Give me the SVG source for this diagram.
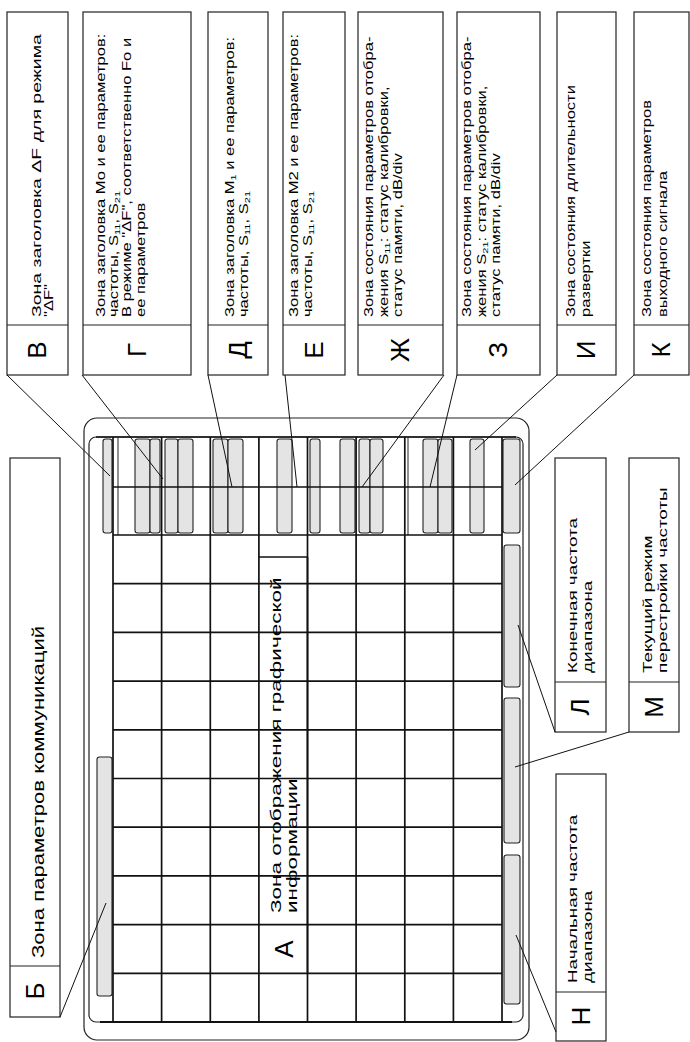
<svg xmlns="http://www.w3.org/2000/svg" width="690" height="1042" viewBox="0 0 690 1042">
<style>
.bx{fill:none;stroke:#222;stroke-width:1.2}
.ld{stroke:#111;stroke-width:1;fill:none}
.gr{stroke:#111;stroke-width:1.7;fill:none}
.th{stroke:#222;stroke-width:1;fill:none}
.bar{fill:#e4e4e4;stroke:#222;stroke-width:1.1}
.t{font-family:"Liberation Sans",Arial,sans-serif;font-size:12px;fill:#000}
.tb{font-family:"Liberation Sans",Arial,sans-serif;font-size:16px;fill:#000}
.tm{font-family:"Liberation Sans",Arial,sans-serif;font-size:13px;fill:#000}
.ta{font-family:"Liberation Sans",Arial,sans-serif;font-size:15px;fill:#000}
.L{font-family:"Liberation Sans",Arial,sans-serif;font-size:26px;fill:#000;text-anchor:middle}
</style>
<rect width="690" height="1042" fill="#fff"/>

<g id="display">
  <rect x="84" y="418" width="445" height="622" rx="13" class="bx" stroke-width="1.5"/>
  <rect x="89" y="437" width="434" height="585" rx="7" class="bx"/>
  <line x1="96" y1="437" x2="516" y2="437" class="gr" stroke-width="2.2"/>
  <g id="header-bars">
    <rect x="103" y="439" width="9" height="94" rx="2.5" class="bar"/>
    <rect x="135" y="439" width="15" height="94" rx="2.5" class="bar"/>
    <rect x="150" y="439" width="10" height="94" rx="2.5" class="bar"/>
    <rect x="165" y="439" width="13" height="94" rx="2.5" class="bar"/>
    <rect x="178" y="439" width="15" height="94" rx="2.5" class="bar"/>
    <rect x="213" y="439" width="15" height="94" rx="2.5" class="bar"/>
    <rect x="228" y="439" width="15" height="94" rx="2.5" class="bar"/>
    <rect x="277" y="439" width="15" height="94" rx="2.5" class="bar"/>
    <rect x="310" y="439" width="10" height="94" rx="2.5" class="bar"/>
    <rect x="340" y="439" width="15" height="94" rx="2.5" class="bar"/>
    <rect x="359" y="439" width="11" height="94" rx="2.5" class="bar"/>
    <rect x="370" y="439" width="13" height="94" rx="2.5" class="bar"/>
    <rect x="423" y="439" width="15" height="94" rx="2.5" class="bar"/>
    <rect x="438" y="439" width="14" height="94" rx="2.5" class="bar"/>
    <rect x="470" y="439" width="14" height="94" rx="2.5" class="bar"/>
    <rect x="503" y="439" width="17" height="94" rx="2.5" class="bar"/>
    <line x1="118" y1="437" x2="118" y2="535" class="th"/>
    <line x1="408" y1="437" x2="408" y2="535" class="th"/>
  </g>
  <g id="side-bars">
    <rect x="504" y="545" width="16" height="142" rx="2.5" class="bar"/>
    <rect x="504" y="698" width="16" height="145" rx="2.5" class="bar"/>
    <rect x="504" y="855" width="16" height="149" rx="2.5" class="bar"/>
    <rect x="97" y="757" width="15" height="239" rx="2.5" class="bar"/>
  </g>
  <g id="grid" class="gr">
    <line x1="113" y1="487" x2="502" y2="487" stroke-width="1.3"/>
    <line x1="113" y1="535" x2="502" y2="535"/>
    <line x1="113" y1="583.7" x2="502" y2="583.7"/>
    <line x1="113" y1="632.4" x2="502" y2="632.4"/>
    <line x1="113" y1="681.1" x2="502" y2="681.1"/>
    <line x1="113" y1="729.8" x2="502" y2="729.8"/>
    <line x1="113" y1="778.5" x2="502" y2="778.5"/>
    <line x1="113" y1="827.2" x2="502" y2="827.2"/>
    <line x1="113" y1="875.9" x2="502" y2="875.9"/>
    <line x1="113" y1="924.6" x2="502" y2="924.6"/>
    <line x1="113" y1="973.3" x2="502" y2="973.3"/>
    <line x1="100" y1="1022" x2="512" y2="1022" stroke-width="2.2"/>
    <line x1="113" y1="437" x2="113" y2="1022"/>
    <line x1="161.6" y1="437" x2="161.6" y2="1022"/>
    <line x1="210.3" y1="437" x2="210.3" y2="1022"/>
    <line x1="258.9" y1="437" x2="258.9" y2="1022"/>
    <line x1="307.5" y1="437" x2="307.5" y2="1022"/>
    <line x1="356.1" y1="437" x2="356.1" y2="1022"/>
    <line x1="404.8" y1="437" x2="404.8" y2="1022"/>
    <line x1="453.4" y1="437" x2="453.4" y2="1022"/>
    <line x1="502" y1="437" x2="502" y2="1022"/>
  </g>
</g>

<g id="node-A">
  <line x1="258.9" y1="557" x2="307.5" y2="557" class="gr" stroke-width="1.4"/>
  <line x1="307.5" y1="557" x2="307.5" y2="973" class="gr" stroke-width="2.6"/>
  <text class="ta" transform="translate(281,913) rotate(-90) scale(1.5,1)">Зона отображения графической</text>
  <text class="ta" transform="translate(297,913) rotate(-90) scale(1.5,1)">информации</text>
  <text class="L" transform="translate(284,949) rotate(-90)" y="9">А</text>
</g>

<g id="node-B">
  <rect x="7" y="12" width="61" height="363" class="bx"/>
  <line x1="7" y1="325" x2="68" y2="325" class="bx"/>
  <text class="t" transform="translate(41,317) rotate(-90) scale(1.38,1)" textLength="205" lengthAdjust="spacingAndGlyphs">Зона заголовка ΔF для режима</text>
  <text class="t" transform="translate(53,317) rotate(-90) scale(1.38,1)">"ΔF"</text>
  <text class="L" transform="translate(37,350) rotate(-90)" y="9">В</text>
</g>

<g id="node-G">
  <rect x="83" y="12" width="108" height="363" class="bx"/>
  <line x1="83" y1="325" x2="191" y2="325" class="bx"/>
  <text class="t" transform="translate(105,317) rotate(-90) scale(1.38,1)">Зона заголовка Мо и ее параметров:</text>
  <text class="t" transform="translate(118,317) rotate(-90) scale(1.38,1)">частоты, S<tspan font-size="8" dy="2">11</tspan><tspan dy="-2">, S</tspan><tspan font-size="8" dy="2">21</tspan></text>
  <text class="t" transform="translate(131,317) rotate(-90) scale(1.38,1)">В режиме "ΔF", соответственно Fo и</text>
  <text class="t" transform="translate(145,317) rotate(-90) scale(1.38,1)">ее параметров</text>
  <text class="L" transform="translate(137,350) rotate(-90)" y="9">Г</text>
</g>

<g id="node-D">
  <rect x="208" y="12" width="60" height="363" class="bx"/>
  <line x1="208" y1="325" x2="268" y2="325" class="bx"/>
  <text class="t" transform="translate(234,317) rotate(-90) scale(1.38,1)">Зона заголовка М<tspan font-size="8" dy="2">1</tspan><tspan dy="-2"> и ее параметров:</tspan></text>
  <text class="t" transform="translate(248,317) rotate(-90) scale(1.38,1)">частоты, S<tspan font-size="8" dy="2">11</tspan><tspan dy="-2">, S</tspan><tspan font-size="8" dy="2">21</tspan></text>
  <text class="L" transform="translate(238,350) rotate(-90)" y="9">Д</text>
</g>

<g id="node-E">
  <rect x="283" y="12" width="62" height="363" class="bx"/>
  <line x1="283" y1="325" x2="345" y2="325" class="bx"/>
  <text class="t" transform="translate(298,317) rotate(-90) scale(1.38,1)">Зона заголовка М2 и ее параметров:</text>
  <text class="t" transform="translate(312,317) rotate(-90) scale(1.38,1)">частоты, S<tspan font-size="8" dy="2">11</tspan><tspan dy="-2">, S</tspan><tspan font-size="8" dy="2">21</tspan></text>
  <text class="L" transform="translate(314,350) rotate(-90)" y="9">Е</text>
</g>

<g id="node-Zh">
  <rect x="358" y="12" width="85" height="363" class="bx"/>
  <line x1="358" y1="325" x2="443" y2="325" class="bx"/>
  <text class="t" transform="translate(373,317) rotate(-90) scale(1.38,1)">Зона состояния параметров отобра-</text>
  <text class="t" transform="translate(388,317) rotate(-90) scale(1.38,1)">жения S<tspan font-size="8" dy="2">11</tspan><tspan dy="-2">: статус калибровки,</tspan></text>
  <text class="t" transform="translate(402,317) rotate(-90) scale(1.38,1)">статус памяти, dB/div</text>
  <text class="L" transform="translate(400,350) rotate(-90)" y="9">Ж</text>
</g>

<g id="node-Z">
  <rect x="457" y="12" width="83" height="363" class="bx"/>
  <line x1="457" y1="325" x2="540" y2="325" class="bx"/>
  <text class="t" transform="translate(471,317) rotate(-90) scale(1.38,1)">Зона состояния параметров отобра-</text>
  <text class="t" transform="translate(486,317) rotate(-90) scale(1.38,1)">жения S<tspan font-size="8" dy="2">21</tspan><tspan dy="-2">: статус калибровки,</tspan></text>
  <text class="t" transform="translate(500,317) rotate(-90) scale(1.38,1)">статус памяти, dB/div</text>
  <text class="L" transform="translate(498,350) rotate(-90)" y="9">З</text>
</g>

<g id="node-I">
  <rect x="557" y="12" width="59" height="363" class="bx"/>
  <line x1="557" y1="325" x2="616" y2="325" class="bx"/>
  <text class="t" transform="translate(575,317) rotate(-90) scale(1.38,1)">Зона состояния длительности</text>
  <text class="t" transform="translate(590,317) rotate(-90) scale(1.38,1)">развертки</text>
  <text class="L" transform="translate(586,350) rotate(-90)" y="9">И</text>
</g>

<g id="node-K">
  <rect x="634" y="12" width="55" height="363" class="bx"/>
  <line x1="634" y1="325" x2="689" y2="325" class="bx"/>
  <text class="t" transform="translate(651,317) rotate(-90) scale(1.38,1)">Зона состояния параметров</text>
  <text class="t" transform="translate(667,317) rotate(-90) scale(1.38,1)">выходного сигнала</text>
  <text class="L" transform="translate(661,350) rotate(-90)" y="9">К</text>
</g>

<g id="node-Bb">
  <rect x="10" y="458" width="50" height="559" class="bx"/>
  <line x1="10" y1="966" x2="60" y2="966" class="bx"/>
  <text class="tb" transform="translate(44,958) rotate(-90) scale(1.38,1)">Зона параметров коммуникаций</text>
  <text class="L" transform="translate(35,991) rotate(-90)" y="9">Б</text>
</g>

<g id="node-L">
  <rect x="555" y="458" width="51" height="274" class="bx"/>
  <line x1="555" y1="682" x2="606" y2="682" class="bx"/>
  <text class="tm" transform="translate(577,673) rotate(-90) scale(1.45,1)">Конечная частота</text>
  <text class="tm" transform="translate(592,673) rotate(-90) scale(1.45,1)">диапазона</text>
  <text class="L" transform="translate(580,707) rotate(-90)" y="9">Л</text>
</g>

<g id="node-M">
  <rect x="629" y="458" width="50" height="274" class="bx"/>
  <line x1="629" y1="682" x2="679" y2="682" class="bx"/>
  <text class="tm" transform="translate(652,673) rotate(-90) scale(1.45,1)">Текущий режим</text>
  <text class="tm" transform="translate(667,673) rotate(-90) scale(1.45,1)">перестройки частоты</text>
  <text class="L" transform="translate(654,707) rotate(-90)" y="9">М</text>
</g>

<g id="node-N">
  <rect x="556" y="774" width="50" height="267" class="bx"/>
  <line x1="556" y1="992" x2="606" y2="992" class="bx"/>
  <text class="tm" transform="translate(577,983) rotate(-90) scale(1.45,1)">Начальная частота</text>
  <text class="tm" transform="translate(592,983) rotate(-90) scale(1.45,1)">диапазона</text>
  <text class="L" transform="translate(581,1016) rotate(-90)" y="9">Н</text>
</g>

<g id="connectors" class="ld">
  <line x1="7" y1="375" x2="110" y2="476"/>
  <line x1="82" y1="375" x2="163" y2="479"/>
  <line x1="208" y1="375" x2="232" y2="487"/>
  <line x1="285" y1="375" x2="297" y2="487"/>
  <line x1="444" y1="375" x2="362" y2="487"/>
  <line x1="457" y1="375" x2="430" y2="487"/>
  <line x1="557" y1="375" x2="475" y2="450"/>
  <line x1="634" y1="375" x2="515" y2="485"/>
  <line x1="555" y1="732" x2="518" y2="625"/>
  <line x1="629" y1="732" x2="515" y2="767"/>
  <line x1="556" y1="1032" x2="516" y2="935"/>
  <line x1="60" y1="1017" x2="106" y2="903"/>
</g>
</svg>
